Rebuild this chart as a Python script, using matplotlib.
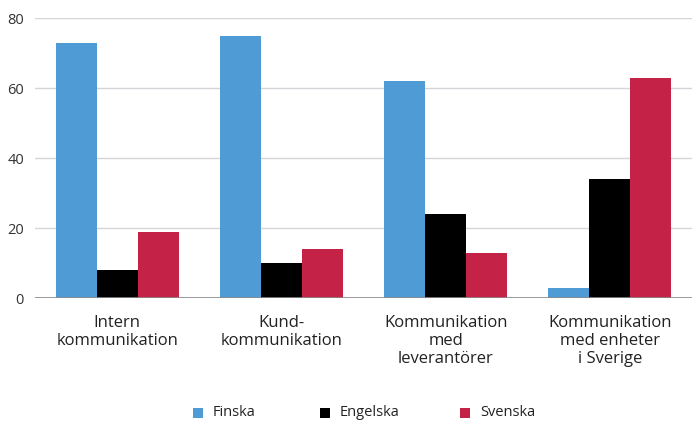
import matplotlib
matplotlib.use("Agg")
import matplotlib.pyplot as plt
import numpy as np
from matplotlib.patches import Rectangle

plt.rcParams['font.family'] = ['Open Sans', 'DejaVu Sans']

categories = ["Intern\nkommunikation", "Kund-\nkommunikation",
              "Kommunikation\nmed\nleverantörer", "Kommunikation\nmed enheter\ni Sverige"]
series_names = ["Finska", "Engelska", "Svenska"]
finska = [73, 75, 62, 3]
engelska = [8, 10, 24, 34]
svenska = [19, 14, 13, 63]
colors = ["#4F9BD5", "#000000", "#C42347"]
yticks = [0, 20, 40, 60, 80]

W, H = 692, 421
fig = plt.figure(figsize=(W/100, H/100), dpi=100)
ax = fig.add_axes([35/W, 1-298/H, 1-35/W, (298-18)/H])

x = np.arange(len(categories))
w = 0.25
for i, (vals, c) in enumerate(zip([finska, engelska, svenska], colors)):
    ax.bar(x + (i-1)*w, vals, width=w, color=c, zorder=3, linewidth=0)

ax.set_xlim(-0.5, 3.5)
ax.set_ylim(0, 80)
ax.set_yticks(yticks)
ax.yaxis.grid(True, color="#d4d4da", linewidth=1.0, zorder=0)
ax.axhline(0, color="#8a8a8a", linewidth=1.2, zorder=4)
for s in ax.spines.values():
    s.set_visible(False)
ax.tick_params(axis='y', length=0, labelsize=10.5, labelcolor="#333333", pad=8)
ax.tick_params(axis='x', length=0, labelsize=12, labelcolor="#222222", pad=12)
ax.set_xticks(x)
ax.set_xticklabels(categories, linespacing=1.18)

# legend (manual layout)
leg_x = [193, 320, 460]
leg_y = 413
for px, name, c in zip(leg_x, series_names, colors):
    fig.patches.append(Rectangle((px/W, 1-(leg_y+5)/H), 10/W, 10/H,
                                 transform=fig.transFigure, facecolor=c, edgecolor='none'))
    fig.text((px+20)/W, 1-leg_y/H, name, ha='left', va='center',
             fontsize=10.5, color="#222222")

fig.savefig("out.png", dpi=100)
